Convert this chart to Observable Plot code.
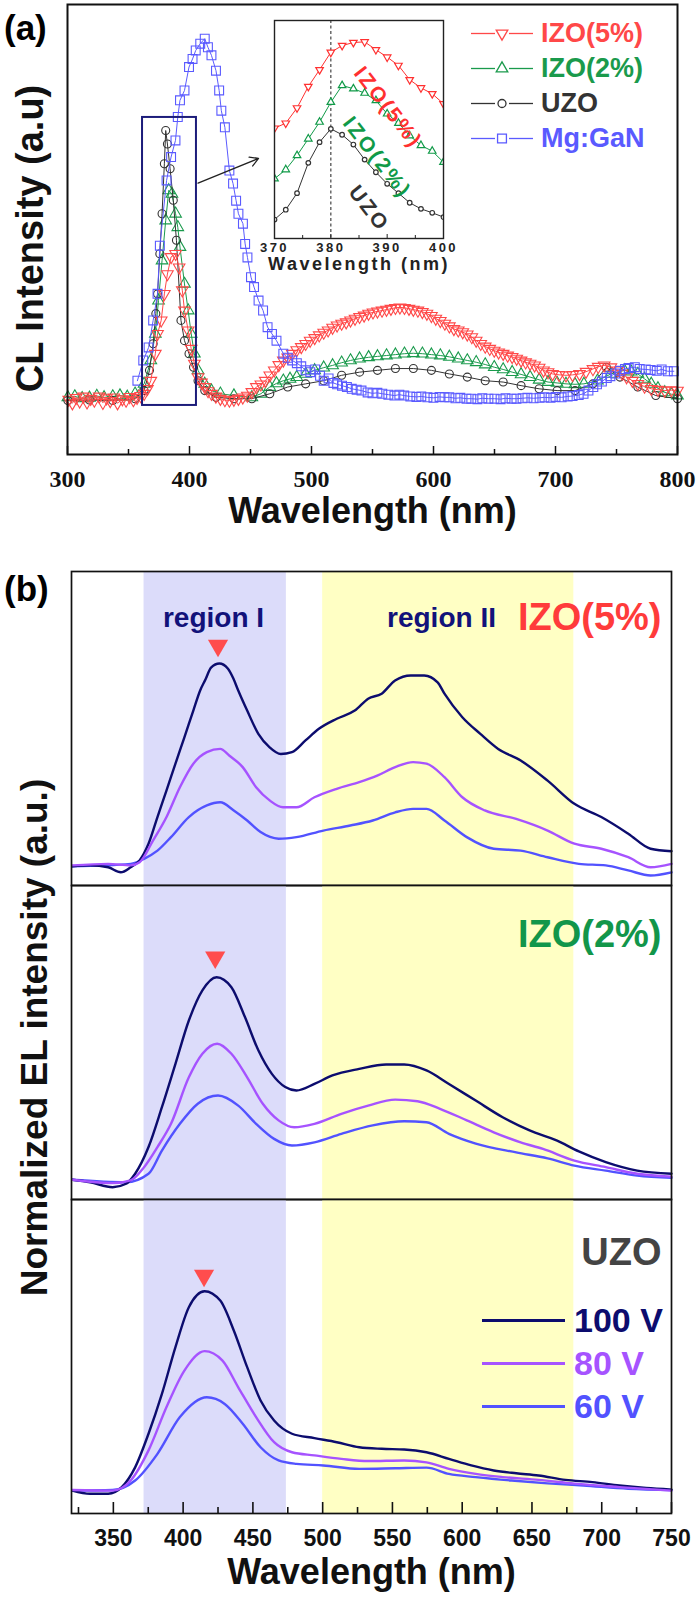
<!DOCTYPE html>
<html>
<head>
<meta charset="utf-8">
<script src="https://cdn.jsdelivr.net/npm/d3@7"></script>
<script src="https://cdn.jsdelivr.net/npm/@observablehq/plot@0.6"></script>
<style>
  body { margin: 0; background: #fff; font-family: "Liberation Sans", Arial, sans-serif; }
  #root { position: relative; width: 700px; height: 1608px; overflow: hidden; background: #fff; }
  #root > svg { position: absolute; overflow: visible; }
  .lbl { position: absolute; font-weight: bold; line-height: 1; white-space: nowrap; }
  .row { position: absolute; display: flex; align-items: center; }
  .row span { font-weight: bold; white-space: nowrap; }
</style>
</head>
<body>
<div id="root"></div>
<script>
// ---------------- Panel (a): CL spectra, [wavelength nm, intensity a.u.] ----------------
const clSeries = ["IZO(5%)", "IZO(2%)", "UZO", "Mg:GaN"];

const clIZO5 = [[301,12.2],[304,11.4],[307,12.6],[310,11.8],[313,12.9],[316,11.6],[319,12.4],[322,12.0],[326,12.9],[329,11.5],[332,12.5],[335,11.9],[338,12.7],[341,11.4],[345,12.3],[348,12.0],[351,12.8],[354,12.1],[357,12.6],[360,13.0],[362.8,13.5],[365.5,14.6],[368.3,16.4],[372.0,22.4],[373.8,26.8],[376.8,29.8],[379.4,35.7],[381.9,40.1],[384.9,43.9],[388.6,44.6],[391.5,41.6],[394.1,36.5],[395.9,32.0],[398.9,27.6],[401.4,23.5],[404.0,20.2],[407.0,17.2],[409.8,16.0],[412.5,15.0],[415.2,14.1],[418.0,13.5],[421.6,12.9],[425.3,12.4],[429,12.1],[432.7,12.0],[436.4,12.2],[440.1,12.4],[443.7,12.7],[447.4,13.1],[451.1,13.9],[454.8,15.0],[458.5,15.6],[462.1,16.4],[465.8,17.6],[469.5,18.7],[473.2,19.9],[476.9,20.9],[480.5,21.6],[484.2,22.4],[487.9,23.2],[491.6,23.9],[495.2,24.6],[498.9,25.3],[502.6,25.9],[506.3,26.5],[510,27.1],[513.6,27.6],[517.3,28.2],[521.0,28.7],[524.7,29.1],[528.4,29.4],[532,29.8],[535.7,30.2],[539.4,30.6],[543.1,30.9],[546.8,31.3],[550.4,31.6],[554.1,31.8],[557.8,32.0],[561.5,32.2],[565.1,32.4],[568.8,32.6],[572.5,32.7],[576.2,32.6],[579.9,32.4],[583.5,32.2],[587.2,32.0],[590.9,31.7],[594.6,31.3],[598.3,30.8],[601.9,30.2],[605.6,29.7],[609.3,29.1],[613,28.5],[616.7,27.9],[620.3,27.6],[624.0,27.2],[627.7,26.7],[631.4,26.1],[635,25.3],[638.7,24.6],[642.4,24.0],[646.1,23.5],[649.8,23.1],[653.4,22.7],[657.1,22.4],[660.8,22.0],[664.5,21.7],[668.2,21.3],[671.8,20.9],[675.5,20.5],[679.2,20.2],[682.9,19.8],[686.6,19.3],[690.2,18.7],[693.9,18.3],[697.6,17.9],[703,17.7],[708.6,17.6],[714,17.7],[719.7,17.9],[725,18.4],[730.7,19.0],[735,19.5],[739.9,19.8],[745.4,19.4],[750.9,18.7],[754.6,18.0],[758.3,17.2],[763,16.4],[767.5,15.7],[773,15.1],[778.5,14.6],[784,14.4],[789.6,14.2],[795,14.3],[800,14.2]];

const clIZO2 = [[300.3,12.7],[306,12.9],[312,12.5],[318,12.6],[324,13.0],[330,12.7],[337.1,12.9],[343,13.1],[349,12.8],[355.4,13.5],[362.8,15.7],[368.3,20.9],[372.0,26.8],[374.6,34.2],[377.5,43.1],[380.5,52.0],[383.0,58.7],[385.6,57.9],[388.6,53.5],[390.4,50.5],[392.2,46.1],[395.9,37.9],[398.9,32.0],[401.4,26.8],[404.0,22.4],[407.0,18.7],[412.5,15.7],[418.0,14.2],[425.3,13.5],[436.4,13.1],[451.1,12.7],[458.5,13.5],[465.8,15.0],[471.3,15.8],[476.9,16.4],[482.4,16.8],[487.9,17.2],[495.2,17.9],[502.6,18.7],[510,19.3],[517.3,19.8],[524.7,20.4],[532.0,20.9],[539.4,21.3],[546.8,21.6],[554.1,21.8],[561.5,22.0],[568.8,22.2],[576.2,22.4],[583.5,22.5],[590.9,22.4],[598.3,22.2],[605.6,22.0],[613,21.7],[620.3,21.3],[627.7,20.9],[635.0,20.5],[642.4,20.0],[649.8,19.4],[657.1,18.9],[664.5,18.3],[671.8,17.8],[679.2,17.2],[686.6,16.6],[693.9,16.1],[701.3,15.9],[708.6,15.7],[716,15.6],[723.3,15.7],[734.4,16.4],[745.4,17.9],[756.4,18.7],[762,18.4],[767.5,17.9],[773,16.8],[778.5,15.7],[784,14.7],[789.6,13.8],[795,13.4],[800,13.1]];

const clUZO = [[300.3,12.0],[318,12.1],[337.1,12.0],[355.4,12.4],[362.8,14.2],[367.2,18.7],[370.2,24.6],[372.4,31.3],[373.8,35.7],[375.7,44.6],[377.5,53.5],[379.4,64.6],[380.5,72.0],[381.9,69.0],[384.1,63.5],[386.7,56.5],[389.3,47.6],[393.0,29.8],[395.9,25.3],[399.6,22.4],[403.3,19.4],[407.0,16.4],[412.5,14.2],[421.7,12.7],[436.4,12.4],[451.1,12.4],[465.8,13.5],[480.5,15.0],[495.2,15.7],[510.0,16.4],[524.7,17.6],[539.4,18.3],[554.1,18.7],[568.8,19.1],[583.5,19.1],[598.3,18.7],[613.0,17.9],[627.7,17.2],[642.4,16.4],[657.1,16.1],[671.8,15.3],[686.6,14.6],[701.3,14.2],[716.0,14.2],[730.7,15.7],[741.7,19.4],[752.8,17.2],[767.5,15.0],[782.2,13.1],[800,12.4]];

const clMgGaN = [[357.3,16.4],[362.1,20.9],[366.5,23.8],[370.2,29.8],[373.8,35.7],[375.7,46.4],[381.2,60.9],[384.9,66.1],[388.5,69.8],[390.4,75.0],[392.2,78.7],[395.9,80.9],[399.6,86.1],[402.5,87.9],[405.1,89.8],[408.8,91.3],[412.5,92.4],[415.1,90.5],[418.0,88.7],[421.7,85.3],[424.3,80.9],[426.1,76.4],[429.0,72.7],[432.7,63.1],[435.7,60.2],[438.2,56.4],[440.1,53.5],[443.8,51.3],[445.6,46.8],[447.5,43.8],[450.4,39.4],[452.9,37.2],[456.6,34.2],[460.3,32.0],[464.0,28.3],[467.6,26.8],[471.3,25.3],[476.9,22.4],[480.5,21.5],[484.2,20.9],[488,20.3],[491.6,19.6],[495.2,18.7],[499,18.3],[503,18.9],[507,17.5],[510,16.4],[514,16.9],[518,15.9],[521,15.6],[525,15.3],[529,15.0],[533,14.6],[537,14.4],[541,14.2],[546,13.8],[550,13.6],[554,13.7],[558,13.5],[563,13.3],[568,13.1],[572,13.3],[576,13.1],[581,12.9],[586,12.8],[590,12.9],[595,12.7],[600,12.6],[605,12.8],[609,12.7],[613,12.7],[618,12.5],[622,12.6],[627,12.4],[631,12.4],[636,12.3],[640,12.5],[645,12.4],[650,12.4],[655,12.3],[659,12.5],[664,12.4],[668,12.4],[673,12.5],[677,12.6],[682,12.5],[687,12.6],[691,12.7],[696,12.6],[700,12.8],[705,12.7],[710,12.9],[714,13.0],[719,13.2],[723,13.5],[727,14.2],[731,15.0],[734,15.6],[738,16.2],[742,17.0],[745,17.4],[749,18.0],[753,18.6],[757,19.0],[760,19.2],[765,19.4],[769,19.0],[774,18.9],[778,18.8],[783,18.6],[787,18.9],[792,18.5],[797,18.5]];

// inset (370-400 nm zoom)
const insetWl   = [370,372,374,376,378,380,382,384,386,388,390,392,394,396,398,400];
const insetIZO5 = [50.6,52.9,59.9,69.7,77.4,85.4,88.5,89.9,90.2,86.6,83.2,79.4,72.8,69.1,66.4,61.8];
const insetIZO2 = [27.4,31.6,38.1,45.7,53.4,62.5,70.2,68.7,66.7,63.3,57.2,52.9,47.2,42.7,40.1,35.0];
const insetUZO  = [8.7,13.2,20.8,34.7,44.2,50.3,47.6,43.1,36.2,30.4,25.1,20.8,16.4,13.6,11.8,9.8];

// zoom box and arrow (annotation, in data units)
const zoomBox = [{x1: 361.5, x2: 405.7, y1: 10.9, y2: 74.9}];
const zoomArrow = [{x1: 407, y1: 60.3, x2: 456.6, y2: 65.8}];

// ---------------- Panel (b): EL spectra, [wavelength nm, normalized intensity] ----------------
const samples = ["IZO(5%)", "IZO(2%)", "UZO"];
const voltages = ["100 V", "80 V", "60 V"];

const el5_100 = [[320.6,6.1],[333.4,6.4],[346.3,5.8],[355.3,4.2],[362.4,5.8],[368.8,8.0],[375.2,13.3],[381.6,21.8],[388.1,30.3],[394.5,38.8],[400.9,47.2],[407.3,55.7],[412.2,62.1],[416,65.6],[420,69.4],[426,70.7],[432,69.1],[436,65.9],[439.5,62.1],[445.9,55.7],[453.9,48.3],[462,44.0],[470,41.9],[478,42.5],[487.7,46.2],[497.3,49.9],[510.1,53.1],[523,55.7],[532.6,59.5],[542.3,61.1],[551.9,65.3],[563.2,66.9],[572.8,66.9],[582.4,64.7],[587.3,61.1],[600.1,53.6],[613,48.3],[625.8,43.5],[641.9,39.8],[661.2,33.4],[680.4,26.0],[699.7,21.8],[719,16.5],[735,11.7],[750,10.9]];
const el5_80 = [[320.6,6.4],[346.3,6.9],[362.4,6.4],[368.8,7.4],[378.4,14.3],[388.1,21.8],[397.7,31.3],[407.3,38.8],[417,42.5],[426.6,43.5],[433,41.4],[442.7,37.7],[452.3,31.3],[462,27.1],[471.6,24.9],[481.2,24.9],[494.1,28.1],[510.1,30.8],[526.2,32.9],[539.1,35.0],[552,37.7],[564.8,39.3],[574.4,38.8],[587.3,34.5],[600.1,28.1],[616.2,23.9],[638.7,21.2],[661.2,17.5],[680.4,13.3],[699.7,11.7],[719,9.0],[735,5.8],[750,6.9]];
const el5_60 = [[320.6,6.1],[362.4,6.9],[372,8.5],[381.6,11.1],[391.3,15.4],[404.1,21.8],[417,25.5],[426.6,26.5],[436.3,23.9],[445.9,20.7],[455.5,17.0],[468.4,14.9],[481.2,15.4],[500.5,17.5],[519.8,19.1],[535.9,20.7],[552,23.3],[564.8,24.4],[574.4,24.4],[587.3,20.7],[603.3,15.4],[622.6,11.7],[641.9,11.1],[661.2,9.0],[683.6,6.9],[702.9,6.4],[719,4.8],[735,3.2],[750,4.2]];

const el2_100 = [[320.6,6.3],[333.4,5.5],[349.5,3.9],[359.1,5.0],[365.6,8.2],[375.2,16.7],[384.8,29.4],[394.5,43.2],[404.1,57.0],[413.8,66.6],[424,70.8],[434.6,67.6],[444.3,58.1],[453.9,47.5],[463.6,40.0],[473.2,35.8],[481.2,34.7],[494.1,36.8],[507,39.5],[526.2,41.6],[545.5,43.0],[558.4,43.0],[574.4,41.1],[590.5,36.8],[609.7,31.5],[629,26.2],[648.3,22.0],[667.6,18.8],[683.6,15.3],[702.9,11.9],[725.4,9.2],[750,8.2]];
const el2_80 = [[320.6,6.3],[349.5,5.2],[362.4,6.1],[372,10.3],[381.6,16.7],[391.3,24.1],[404.1,38.9],[413.8,46.4],[424.4,49.6],[434.6,46.4],[445.9,38.9],[457.1,30.5],[468.4,25.2],[479.6,23.0],[494.1,24.1],[513.4,27.3],[532.6,29.9],[552,31.8],[568,31.3],[584.1,28.9],[603.3,25.2],[622.6,21.4],[641.9,18.2],[657.9,16.1],[680.4,12.4],[702.9,10.3],[725.4,8.2],[750,7.3]];
const el2_60 = [[320.6,6.3],[359.1,5.5],[375.2,8.2],[384.8,15.6],[397.7,24.1],[410.5,30.5],[425,33.1],[439.5,29.9],[452.3,24.1],[465.2,19.3],[478,17.2],[494.1,18.2],[513.4,20.9],[535.9,23.6],[558.4,24.9],[574.4,24.6],[590.5,20.9],[609.7,17.8],[638.7,15.0],[661.2,13.1],[680.4,10.8],[702.9,9.2],[725.4,7.6],[750,6.9]];

const elU_100 = [[320.6,7.3],[333.4,6.3],[346.3,6.3],[356,8.4],[365.6,14.7],[375.2,25.4],[384.8,38.1],[394.5,53.0],[404.1,65.7],[415.4,70.8],[426.6,67.8],[436.3,58.3],[445.9,46.6],[455.5,36.0],[465.2,29.6],[478,25.4],[494.1,24.0],[510.1,22.7],[526.2,21.1],[542.3,20.6],[558.4,20.4],[574.4,19.5],[590.5,17.4],[606.5,15.3],[622.6,13.7],[638.7,12.8],[654.7,12.1],[674,10.7],[693.3,10.0],[712.6,8.9],[731.8,8.1],[750,7.6]];
const elU_80 = [[320.6,7.5],[349.5,7.3],[362.4,10.5],[375.2,20.1],[388.1,33.9],[400.9,45.5],[415.4,51.7],[428.2,48.7],[439.5,40.2],[452.3,30.7],[465.2,22.7],[478,19.5],[494.1,18.5],[513.4,17.4],[532.6,16.7],[558.4,16.9],[574.4,16.3],[590.5,14.2],[609.7,12.6],[629,11.6],[654.7,10.7],[680.4,9.5],[712.6,8.4],[750,7.3]];
const elU_60 = [[320.6,7.3],[349.5,7.5],[365.6,10.5],[381.6,19.0],[397.7,30.7],[417,37.0],[429.8,34.9],[442.7,28.6],[455.5,21.1],[468.4,16.9],[481.2,15.8],[500.5,15.3],[526.2,14.2],[552,14.4],[574.4,14.6],[590.5,12.6],[609.7,11.6],[635.4,10.5],[661.2,9.6],[686.9,8.9],[719,7.9],[750,7.5]];

// peak markers (red triangles above the UV peak)
const peakWl   = [425, 423, 415];
const peakMark = [76.4, 77.1, 75.8];

// shaded spectral regions
const regionNames = ["region I", "region II"];
const regionStart = [372, 500];
const regionEnd   = [474, 680];

// ---------------- styles ----------------
const FONT = "'Liberation Sans', Arial, sans-serif";
const clColors = {"IZO(5%)": "#ff4848", "IZO(2%)": "#1a9a4c", "UZO": "#333333", "Mg:GaN": "#5a5aff"};
const vColors = {"100 V": "#0c0c6e", "80 V": "#a653ff", "60 V": "#5252ff"};
const sampleColors = {"IZO(5%)": "#ff3b3b", "IZO(2%)": "#12964a", "UZO": "#444444"};

const sqrt3 = Math.sqrt(3);
const triangleDown = {
  draw(context, size) {
    const y = -Math.sqrt(size / (sqrt3 * 3));
    context.moveTo(0, -y * 2);
    context.lineTo(-sqrt3 * y, y);
    context.lineTo(sqrt3 * y, y);
    context.closePath();
  }
};

const toRows = (arr, series) => arr.map(([wl, val]) => ({series, wl, val}));
const clData = {
  "IZO(5%)": toRows(clIZO5, "IZO(5%)"),
  "IZO(2%)": toRows(clIZO2, "IZO(2%)"),
  "UZO": toRows(clUZO, "UZO"),
  "Mg:GaN": toRows(clMgGaN, "Mg:GaN")
};
const clSymbols = {"IZO(5%)": [triangleDown, 4.3], "IZO(2%)": ["triangle", 4.3], "UZO": ["circle", 4], "Mg:GaN": ["square", 5]};

const root = document.getElementById("root");
function place(el, left, top) { el.style.left = left + "px"; el.style.top = top + "px"; root.appendChild(el); }

// ---------------- Plot A ----------------
const drawOrder = ["IZO(2%)", "UZO", "IZO(5%)", "Mg:GaN"];
const marksA = [];
for (const s of drawOrder) {
  marksA.push(Plot.line(clData[s], {x: "wl", y: "val", stroke: clColors[s], strokeWidth: 1}));
  marksA.push(Plot.dot(clData[s], {x: "wl", y: "val", symbol: clSymbols[s][0], r: clSymbols[s][1], stroke: clColors[s], fill: "none", strokeWidth: 1.1}));
}
const plotA = Plot.plot({
  width: 700, height: 540, marginTop: 4, marginBottom: 86, marginLeft: 67, marginRight: 23,
  x: {domain: [300, 800], label: null},
  y: {domain: [0, 100], axis: null},
  style: {background: "transparent", fontFamily: FONT, color: "#111"},
  marks: [
    ...marksA,
    Plot.rect(zoomBox, {x1: "x1", x2: "x2", y1: "y1", y2: "y2", fill: "none", stroke: "#1c1c7a", strokeWidth: 2}),
    Plot.arrow(zoomArrow, {x1: "x1", y1: "y1", x2: "x2", y2: "y2", stroke: "#222", strokeWidth: 1.3, headLength: 11}),
    Plot.frame({stroke: "#111", strokeWidth: 2}),
    Plot.axisX({ticks: d3.range(300, 801, 100), tickSize: -8, tickFormat: () => "", label: null, strokeWidth: 1.5}),
    Plot.axisX({ticks: d3.range(350, 800, 100), tickSize: -5, tickFormat: () => "", label: null, strokeWidth: 1.5}),
    Plot.axisX({ticks: d3.range(300, 801, 100), tickSize: 0, tickPadding: 15, fontSize: 24, fontWeight: "bold", fontFamily: "'Liberation Serif', 'Times New Roman', serif", label: null}),
    Plot.text(["Wavelength (nm)"], {frameAnchor: "bottom", dy: 68, fontSize: 36, fontWeight: "bold", fill: "#111"}),
    Plot.text(["CL Intensity (a.u)"], {frameAnchor: "left", textAnchor: "middle", dx: -37, dy: 9, rotate: -90, fontSize: 38, fontWeight: "bold", fill: "#111"})
  ]
});
place(plotA, 0, 0);

// ---------------- Inset ----------------
const insetRows = {
  "IZO(5%)": insetWl.map((wl, i) => ({wl, val: insetIZO5[i]})),
  "IZO(2%)": insetWl.map((wl, i) => ({wl, val: insetIZO2[i]})),
  "UZO": insetWl.map((wl, i) => ({wl, val: insetUZO[i]}))
};
const insetSym = {"IZO(5%)": [triangleDown, 2.8], "IZO(2%)": ["triangle", 2.8], "UZO": ["circle", 2.3]};
const insetColors = {"IZO(5%)": "#ff3030", "IZO(2%)": "#109a48", "UZO": "#333333"};
const marksI = [];
for (const s of ["IZO(5%)", "IZO(2%)", "UZO"]) {
  marksI.push(Plot.line(insetRows[s], {x: "wl", y: "val", stroke: insetColors[s], strokeWidth: 1, clip: true}));
  marksI.push(Plot.dot(insetRows[s], {x: "wl", y: "val", symbol: insetSym[s][0], r: insetSym[s][1], stroke: insetColors[s], fill: "white", strokeWidth: 1.2, clip: true}));
}
const plotI = Plot.plot({
  width: 200, height: 275, marginTop: 20, marginBottom: 37, marginLeft: 16, marginRight: 15,
  x: {domain: [370, 400], label: null},
  y: {domain: [0, 100], axis: null},
  style: {background: "transparent", fontFamily: FONT, color: "#222", letterSpacing: "2.5px"},
  marks: [
    Plot.frame({fill: "white", stroke: "none"}),
    Plot.ruleX([380], {stroke: "#444", strokeDasharray: "3,2.5", strokeWidth: 1.2}),
    ...marksI,
    Plot.frame({stroke: "#222", strokeWidth: 1.4}),
    Plot.axisX({ticks: [370, 380, 390, 400], tickSize: -4, tickFormat: () => "", label: null}),
    Plot.axisX({ticks: [375, 385, 395], tickSize: -3, tickFormat: () => "", label: null}),
    Plot.axisX({ticks: [370, 380, 390, 400], tickSize: 0, tickPadding: 4, fontSize: 13, fontWeight: "bold", label: null}),
    Plot.text(["Wavelength (nm)"], {frameAnchor: "bottom", dy: 31, fontSize: 18, fontWeight: "bold", fill: "#222"}),
    Plot.text(["IZO(5%)"], {frameAnchor: "top-left", textAnchor: "middle", dx: 120, dy: 82, rotate: 52, fontSize: 21, fontWeight: "bold", fill: insetColors["IZO(5%)"]}),
    Plot.text(["IZO(2%)"], {frameAnchor: "top-left", textAnchor: "middle", dx: 109, dy: 132, rotate: 52, fontSize: 21, fontWeight: "bold", fill: insetColors["IZO(2%)"]}),
    Plot.text(["UZO"], {frameAnchor: "top-left", textAnchor: "middle", dx: 101, dy: 183, rotate: 52, fontSize: 21, fontWeight: "bold", fill: insetColors["UZO"]})
  ]
});
place(plotI, 258, 0);

// ---------------- Panel B sub-plots ----------------
const elSets = {
  "IZO(5%)": {"100 V": el5_100, "80 V": el5_80, "60 V": el5_60},
  "IZO(2%)": {"100 V": el2_100, "80 V": el2_80, "60 V": el2_60},
  "UZO": {"100 V": elU_100, "80 V": elU_80, "60 V": elU_60}
};
const regions = regionNames.map((name, i) => ({name, x1: regionStart[i], x2: regionEnd[i]}));
const regionFill = {"region I": "#dcdcfa", "region II": "#ffffc4"};
const labelDy = [32, 35, 39];
const subTops = [571, 885, 1199];

samples.forEach((sample, idx) => {
  const last = idx === samples.length - 1;
  const mb = last ? 95 : 10;
  const lineMarks = ["60 V", "100 V", "80 V"].map(v =>
    Plot.line(elSets[sample][v].map(([wl, val]) => ({wl, val})), {x: "wl", y: "val", stroke: vColors[v], strokeWidth: 2.4, curve: "monotone-x"}));
  const marks = [
    Plot.rect(regions, {x1: "x1", x2: "x2", fill: d => regionFill[d.name]}),
    ...lineMarks,
    Plot.dot([{wl: peakWl[idx], y: peakMark[idx]}], {x: "wl", y: "y", symbol: triangleDown, r: 7.5, fill: "#ff4d4d", stroke: "none"}),
    Plot.text([sample], {frameAnchor: "top-right", textAnchor: "end", dx: -10, dy: labelDy[idx], fontSize: 38, fontWeight: "bold", fill: sampleColors[sample]}),
    Plot.frame({stroke: "#111", strokeWidth: 1.7})
  ];
  if (idx === 0) {
    marks.push(Plot.text(["region I"], {frameAnchor: "top-left", textAnchor: "middle", dx: 142, dy: 36, fontSize: 28, fontWeight: "bold", fill: "#12127a"}));
    marks.push(Plot.text(["region II"], {frameAnchor: "top-left", textAnchor: "middle", dx: 370, dy: 36, fontSize: 28, fontWeight: "bold", fill: "#12127a"}));
  }
  if (last) {
    marks.push(
      Plot.axisX({ticks: d3.range(350, 751, 50), tickSize: -11, tickFormat: () => "", label: null, strokeWidth: 1.6}),
      Plot.axisX({ticks: d3.range(325, 751, 50), tickSize: -6, tickFormat: () => "", label: null, strokeWidth: 1.6}),
      Plot.axisX({ticks: d3.range(350, 751, 50), tickSize: 0, tickPadding: 16, fontSize: 23, fontWeight: "bold", label: null}),
      Plot.text(["Wavelength (nm)"], {frameAnchor: "bottom", dy: 70, fontSize: 36, fontWeight: "bold", fill: "#111"})
    );
  }
  const p = Plot.plot({
    width: 700, height: 10 + 314 + mb, marginTop: 10, marginBottom: mb, marginLeft: 71, marginRight: 29,
    x: last ? {domain: [320, 750], label: null} : {domain: [320, 750], axis: null},
    y: {domain: [0, 100], axis: null},
    style: {background: "transparent", fontFamily: FONT, color: "#111"},
    marks
  });
  place(p, 0, subTops[idx] - 10);
});

// ---------------- HTML labels and legends ----------------
function addLabel(text, left, top, size, extra = "") {
  const d = document.createElement("div");
  d.className = "lbl";
  d.textContent = text;
  d.style.cssText += `left:${left}px;top:${top}px;font-size:${size}px;${extra}`;
  root.appendChild(d);
  return d;
}
addLabel("(a)", 4, 10, 35);
addLabel("(b)", 4, 571, 35);
addLabel("Normalized EL intensity (a.u.)", 34 - 300, 1037 - 18, 37,
  "width:600px;height:37px;line-height:37px;text-align:center;transform:rotate(-90deg);transform-origin:50% 50%;color:#111;");

// legend (a)
const legendA = [
  {label: "IZO(5%)", sym: triangleDown, r: 4.3},
  {label: "IZO(2%)", sym: d3.symbolTriangle, r: 4.3},
  {label: "UZO", sym: d3.symbolCircle, r: 4},
  {label: "Mg:GaN", sym: d3.symbolSquare, r: 5}
];
legendA.forEach((d, i) => {
  const c = clColors[d.label];
  const row = document.createElement("div");
  row.className = "row";
  row.style.left = "468px";
  row.style.top = (33 + 35 * i - 17.5) + "px";
  row.style.height = "35px";
  const path = d3.symbol(d.sym, Math.PI * d.r * d.r)();
  row.innerHTML = `<svg width="68" height="35" style="display:block"><line x1="3" x2="27" y1="17.5" y2="17.5" stroke="${c}" stroke-width="1.3"/><line x1="41" x2="65" y1="17.5" y2="17.5" stroke="${c}" stroke-width="1.3"/><path transform="translate(34,17.5)" d="${path}" fill="none" stroke="${c}" stroke-width="1.3"/></svg><span style="margin-left:5px;font-size:27px;color:${c}">${d.label}</span>`;
  root.appendChild(row);
});

// legend (b)
voltages.forEach((v, i) => {
  const c = vColors[v];
  const row = document.createElement("div");
  row.className = "row";
  row.style.left = "480px";
  row.style.top = (1320 + 43 * i - 21.5) + "px";
  row.style.height = "43px";
  row.innerHTML = `<svg width="90" height="43" style="display:block"><line x1="2" x2="85" y1="21.5" y2="21.5" stroke="${c}" stroke-width="3"/></svg><span style="margin-left:4px;font-size:34px;color:${c}">${v}</span>`;
  root.appendChild(row);
});
</script>
</body>
</html>
